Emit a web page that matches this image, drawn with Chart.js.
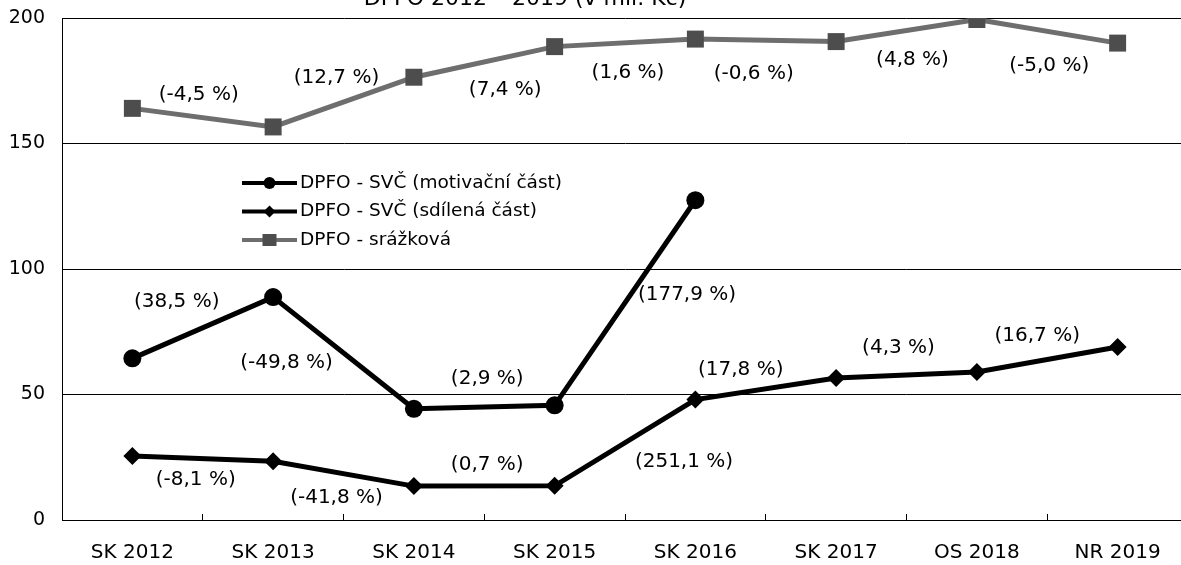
<!DOCTYPE html>
<html>
<head>
<meta charset="utf-8">
<script src="https://cdn.jsdelivr.net/npm/chart.js@4.4.1/dist/chart.umd.min.js"></script>
<style>
body{margin:0;overflow:hidden;background:#fff}
#wrap{width:1200px;height:565px;position:relative}
</style>
</head>
<body>
<div id="wrap"><canvas id="graf"></canvas></div>
<script>
// data
const roky = ['SK 2012', 'SK 2013', 'SK 2014', 'SK 2015', 'SK 2016', 'SK 2017', 'OS 2018', 'NR 2019'];
const motivacni = [64.4, 88.8, 44.3, 45.7, 127.4, null, null, null];
const sdilena = [25.5, 23.4, 13.5, 13.6, 48, 56.6, 59, 68.9];
const srazkova = [164, 156.6, 176.4, 188.6, 191.6, 190.6, 199.4, 190];
const zmenyMotivacni = ['(38,5 %)', '(-49,8 %)', '(2,9 %)', '(177,9 %)'];
const zmenySdilena = ['(-8,1 %)', '(-41,8 %)', '(0,7 %)', '(251,1 %)', '(17,8 %)', '(4,3 %)', '(16,7 %)'];
const zmenySrazkova = ['(-4,5 %)', '(12,7 %)', '(7,4 %)', '(1,6 %)', '(-0,6 %)', '(4,8 %)', '(-5,0 %)'];
const nazvy = ['DPFO - SVČ (motivační část)', 'DPFO - SVČ (sdílená část)', 'DPFO - srážková'];
const titulek = 'DPFO 2012 – 2019 (v mil. Kč)';

const FONT = '"DejaVu Sans", Verdana, sans-serif';

// posun popisku od stredu usecky (px)
const posunMot = [[-26, -26], [-57, 10], [3, -28], [62, -8]];
const posunSdi = [[-7, 21], [-7, 24], [3, -21], [59, 19], [-25, -19], [-8, -27], [-10, -24]];
const posunSra = [[-4, -23], [-7, -24], [21, 28], [3, 30], [-12, 33], [6, 29], [2, 34]];

const popisky = {
  id: 'popisky',
  afterDatasetsDraw(chart) {
    const ctx = chart.ctx;
    const xs = chart.scales.x, ys = chart.scales.y;
    const sady = [[motivacni, zmenyMotivacni, posunMot], [sdilena, zmenySdilena, posunSdi], [srazkova, zmenySrazkova, posunSra]];
    ctx.save();
    ctx.font = '20px ' + FONT;
    ctx.fillStyle = '#000';
    ctx.textAlign = 'center';
    ctx.textBaseline = 'middle';
    sady.forEach(([data, texty, posun]) => {
      texty.forEach((t, i) => {
        const x = xs.getPixelForValue(i + 0.5);
        const y = (ys.getPixelForValue(data[i]) + ys.getPixelForValue(data[i + 1])) / 2;
        ctx.fillText(t, x + posun[i][0], y + posun[i][1]);
      });
    });
    // legenda
    const lx = chart.chartArea.left + 180, ly = chart.chartArea.top + 165;
    chart.data.datasets.forEach((ds, i) => {
      const y = ly + i * 28.5;
      ctx.strokeStyle = ds.borderColor;
      ctx.lineWidth = 4;
      ctx.beginPath();
      ctx.moveTo(lx, y);
      ctx.lineTo(lx + 55, y);
      ctx.stroke();
      ctx.fillStyle = ds.pointBackgroundColor;
      const cx = lx + 27.5;
      ctx.beginPath();
      if (ds.pointStyle === 'circle') {
        ctx.arc(cx, y, 6, 0, Math.PI * 2);
      } else if (ds.pointStyle === 'rectRot') {
        ctx.moveTo(cx, y - 6); ctx.lineTo(cx + 6, y); ctx.lineTo(cx, y + 6); ctx.lineTo(cx - 6, y);
      } else {
        ctx.rect(cx - 7, y - 6, 14, 12);
      }
      ctx.fill();
      ctx.fillStyle = '#000';
      ctx.textAlign = 'left';
      ctx.font = '18.5px ' + FONT;
      ctx.fillText(ds.label, lx + 58, y);
    });
    // orezany titulek
    ctx.textAlign = 'center';
    ctx.textBaseline = 'alphabetic';
    ctx.font = '22px ' + FONT;
    ctx.fillText(titulek, 525, 5);
    ctx.restore();
  }
};

new Chart(document.getElementById('graf'), {
  type: 'line',
  data: {
    labels: roky,
    datasets: [
      {
        label: nazvy[0], data: motivacni,
        borderColor: '#000', borderWidth: 5,
        pointStyle: 'circle', pointRadius: 9,
        pointBackgroundColor: '#000', pointBorderWidth: 0,
        tension: 0
      },
      {
        label: nazvy[1], data: sdilena,
        borderColor: '#000', borderWidth: 5,
        pointStyle: 'rectRot', pointRadius: 9,
        pointBackgroundColor: '#000', pointBorderWidth: 0,
        tension: 0
      },
      {
        label: nazvy[2], data: srazkova,
        borderColor: '#6e6e6e', borderWidth: 5,
        pointStyle: 'rect', pointRadius: 12,
        pointBackgroundColor: '#4d4d4d', pointBorderWidth: 0,
        tension: 0
      }
    ]
  },
  options: {
    responsive: true,
    maintainAspectRatio: false,
    animation: false,
    layout: { padding: { left: 9, top: 18, right: 5, bottom: 1 } },
    plugins: { legend: { display: false }, tooltip: { enabled: false } },
    scales: {
      x: {
        offset: true,
        afterFit(scale) { scale.height = 44; },
        grid: { offset: true, drawOnChartArea: false, tickLength: -6, color: '#000' },
        border: { color: '#000', width: 1 },
        ticks: { color: '#000', padding: 27, font: { family: FONT, size: 20 } }
      },
      y: {
        min: 0, max: 200,
        afterFit(scale) { scale.width = 53; scale.paddingTop = 0; scale.paddingBottom = 0; },
        grid: { color: '#000', drawTicks: false },
        border: { color: '#000', width: 1 },
        ticks: { stepSize: 50, color: '#000', padding: 17, font: { family: FONT, size: 19 } }
      }
    }
  },
  plugins: [popisky]
});
</script>
</body>
</html>
